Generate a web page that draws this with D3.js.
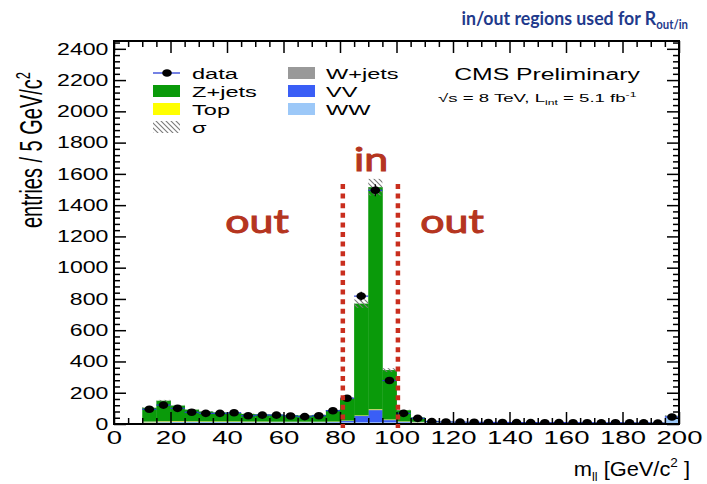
<!DOCTYPE html>
<html>
<head>
<meta charset="utf-8">
<script src="https://cdn.jsdelivr.net/npm/d3@7"></script>
<style>
  body { margin: 0; background: #fff; }
  svg { display: block; }
</style>
</head>
<body>
<svg id="chart" width="707" height="484"></svg>
<script>
// Dilepton mass histogram, 5 GeV/c^2 bins (lower edges)
const binLow = [0, 5, 10, 15, 20, 25, 30, 35, 40, 45, 50, 55, 60, 65, 70, 75, 80, 85, 90, 95,
                100, 105, 110, 115, 120, 125, 130, 135, 140, 145, 150, 155, 160, 165, 170, 175, 180, 185, 190, 195];

// Observed events per bin
const dataCounts = [0, 0, 94, 121, 100, 75, 68, 68, 72, 53, 57, 57, 51, 47, 53, 85, 165, 818, 1495, 278,
                    68, 36, 15, 13, 12, 11, 10, 10, 9, 9, 8, 9, 8, 8, 7, 8, 7, 7, 6, 45];

// Simulated contributions, stacked bottom to top
const wwCounts    = [0, 0, 10, 11, 12, 12, 12, 12, 12, 11, 11, 11, 11, 11, 11, 11, 11, 11, 11, 11,
                     10, 9, 8, 7, 6, 6, 6, 6, 5, 5, 5, 5, 5, 5, 5, 5, 5, 5, 5, 48];
const vvCounts    = [0, 0, 1, 1, 1, 1, 1, 1, 1, 1, 1, 1, 1, 1, 1, 2, 8, 40, 78, 14,
                     4, 2, 1, 1, 1, 1, 1, 1, 1, 1, 1, 1, 1, 1, 1, 1, 1, 1, 1, 2];
const topCounts   = [0, 0, 3, 4, 4, 3, 3, 3, 3, 3, 3, 2, 2, 2, 2, 2, 2, 3, 4, 3,
                     2, 2, 2, 2, 2, 1, 1, 1, 1, 1, 1, 1, 1, 1, 1, 1, 1, 1, 1, 1];
const wjetsCounts = [0, 0, 2, 2, 2, 2, 1, 1, 1, 1, 1, 1, 1, 1, 1, 1, 1, 1, 2, 1,
                     1, 1, 1, 1, 1, 0, 0, 0, 0, 0, 0, 0, 0, 0, 0, 0, 0, 0, 0, 1];
const zjetsCounts = [0, 0, 88, 131, 99, 74, 63, 57, 53, 48, 46, 45, 42, 40, 43, 72, 143, 715, 1420, 316,
                     71, 28, 8, 3, 2, 3, 2, 2, 2, 2, 1, 1, 1, 1, 1, 1, 1, 1, 1, 1];

// Relative systematic uncertainty shown as the hatched band
const sigmaRel = 0.035;

// Axis ticks
const xMajor = [0, 20, 40, 60, 80, 100, 120, 140, 160, 180, 200];
const yMajor = [0, 200, 400, 600, 800, 1000, 1200, 1400, 1600, 1800, 2000, 2200, 2400];

// Boundaries of the "in" window around the Z peak
const inWindow = [81, 100.5];

const binWidth = 5;
const svg = d3.select("#chart");
const x = d3.scaleLinear().domain([0, 200]).range([114, 679]);
const y = d3.scaleLinear().domain([0, 2450]).range([424, 41]);

const colors = { WW: "#9cc8f8", VV: "#3a5ef6", Top: "#ffff00", Wjets: "#999999", Zjets: "#0a9a0a" };
const ROOTFONT = "'Liberation Sans', Arial, Helvetica, sans-serif";

// text stretched horizontally about its anchor point
function stretched(parent, px, py, str, size, sx, anchor, fill) {
  const g = parent.append("g").attr("transform", `translate(${px},${py}) scale(${sx},1)`);
  return g.append("text").attr("x", 0).attr("y", 0)
    .attr("font-family", ROOTFONT).attr("font-size", size)
    .attr("text-anchor", anchor || "start").attr("fill", fill || "#000").text(str);
}

const defs = svg.append("defs");
defs.append("pattern").attr("id", "hatch").attr("patternUnits", "userSpaceOnUse")
  .attr("width", 5).attr("height", 5)
  .append("path").attr("d", "M-1,-1 L6,6 M-1,4 L1,6 M4,-1 L6,1")
  .attr("stroke", "#7a7a7a").attr("stroke-width", 1.1);
defs.append("clipPath").attr("id", "plotClip").append("rect")
  .attr("x", x(0)).attr("y", y(2450)).attr("width", x(200) - x(0)).attr("height", y(0) - y(2450));

// stacked backgrounds
const rows = binLow.map((b, i) => ({ b, WW: wwCounts[i], VV: vvCounts[i], Top: topCounts[i],
                                     Wjets: wjetsCounts[i], Zjets: zjetsCounts[i] }));
const keys = ["WW", "VV", "Top", "Wjets", "Zjets"];
const series = d3.stack().keys(keys)(rows);

const plot = svg.append("g").attr("clip-path", "url(#plotClip)");
plot.selectAll("g.layer").data(series).join("g").attr("class", "layer")
  .attr("fill", s => colors[s.key])
  .selectAll("rect").data(s => s.filter(d => d[1] > d[0])).join("rect")
  .attr("x", d => x(d.data.b))
  .attr("width", d => x(d.data.b + binWidth) - x(d.data.b) + 0.4)
  .attr("y", d => y(d[1]))
  .attr("height", d => y(d[0]) - y(d[1]));

// uncertainty band on the total prediction
const totals = series[series.length - 1];
plot.append("g").selectAll("rect").data(totals.filter(d => d[1] > 0)).join("rect")
  .attr("x", d => x(d.data.b))
  .attr("width", d => x(d.data.b + binWidth) - x(d.data.b))
  .attr("y", d => y(d[1] * (1 + sigmaRel)))
  .attr("height", d => y(d[1] * (1 - sigmaRel)) - y(d[1] * (1 + sigmaRel)))
  .attr("fill", "url(#hatch)");

// data points
const pts = binLow.map((b, i) => ({ b, n: dataCounts[i] })).filter(d => d.n > 0);
const dg = plot.append("g");
dg.selectAll("line.ex").data(pts).join("line").attr("class", "ex")
  .attr("x1", d => x(d.b)).attr("x2", d => x(d.b + binWidth))
  .attr("y1", d => y(d.n)).attr("y2", d => y(d.n))
  .attr("stroke", "#2b3fd6").attr("stroke-width", 1.2);
dg.selectAll("line.ey").data(pts).join("line").attr("class", "ey")
  .attr("x1", d => x(d.b + binWidth / 2)).attr("x2", d => x(d.b + binWidth / 2))
  .attr("y1", d => y(d.n - Math.sqrt(d.n))).attr("y2", d => y(d.n + Math.sqrt(d.n)))
  .attr("stroke", "#000").attr("stroke-width", 1.2);
dg.selectAll("ellipse").data(pts).join("ellipse")
  .attr("cx", d => x(d.b + binWidth / 2)).attr("cy", d => y(d.n))
  .attr("rx", 4.8).attr("ry", 3.8).attr("fill", "#000");

// axes with inward ticks on all four sides
function styleAxis(g) {
  g.select(".domain").remove();
  g.selectAll("line").attr("stroke", "#000").attr("stroke-width", 1.5);
}
const xMinor = binLow.filter(v => v % 20 !== 0);
const yMinor = d3.range(0, 2441, 40).filter(v => v % 200 !== 0);

svg.append("g").attr("transform", `translate(0,${y(0)})`)
  .call(d3.axisBottom(x).tickValues(xMinor).tickSize(-6).tickFormat("")).call(styleAxis);
svg.append("g").attr("transform", `translate(0,${y(2450)})`)
  .call(d3.axisTop(x).tickValues(xMinor).tickSize(-6).tickFormat("")).call(styleAxis);
svg.append("g").attr("transform", `translate(0,${y(2450)})`)
  .call(d3.axisTop(x).tickValues(xMajor).tickSize(-12).tickFormat("")).call(styleAxis);
svg.append("g").attr("transform", `translate(${x(0)},0)`)
  .call(d3.axisLeft(y).tickValues(yMinor).tickSize(-6).tickFormat("")).call(styleAxis);
svg.append("g").attr("transform", `translate(${x(200)},0)`)
  .call(d3.axisRight(y).tickValues(yMinor).tickSize(-6).tickFormat("")).call(styleAxis);
svg.append("g").attr("transform", `translate(${x(200)},0)`)
  .call(d3.axisRight(y).tickValues(yMajor).tickSize(-12).tickFormat("")).call(styleAxis);

const xAxis = svg.append("g").attr("transform", `translate(0,${y(0)})`)
  .call(d3.axisBottom(x).tickValues(xMajor).tickFormat(d3.format("d"))
        .tickSizeInner(-12).tickSizeOuter(0).tickPadding(7))
  .call(styleAxis);
xAxis.selectAll("text").attr("font-family", ROOTFONT).attr("font-size", 19).attr("fill", "#000")
  .attr("transform", "scale(1.45,1)");

const yAxis = svg.append("g").attr("transform", `translate(${x(0)},0)`)
  .call(d3.axisLeft(y).tickValues(yMajor).tickFormat(d3.format("d"))
        .tickSizeInner(-12).tickSizeOuter(0).tickPadding(4))
  .call(styleAxis);
yAxis.selectAll("text").attr("font-family", ROOTFONT).attr("font-size", 16.5).attr("fill", "#000")
  .attr("transform", "scale(1.4,1)");

// frame
svg.append("rect").attr("x", x(0)).attr("y", y(2450))
  .attr("width", x(200) - x(0)).attr("height", y(0) - y(2450))
  .attr("fill", "none").attr("stroke", "#000").attr("stroke-width", 2);

// in/out window markers
svg.append("g").selectAll("line").data(inWindow).join("line")
  .attr("x1", d => x(d)).attr("x2", d => x(d))
  .attr("y1", 184).attr("y2", 428)
  .attr("stroke", "#c92e1e").attr("stroke-width", 4.5).attr("stroke-dasharray", "5,4.6");

const noteFont = "Lato, 'Open Sans', sans-serif";
const noteColor = "#b5351f";
function note(px, py, str) {
  svg.append("g").attr("transform", `translate(${px},${py}) scale(1.3,1)`)
    .append("text").attr("text-anchor", "middle")
    .attr("font-family", noteFont).attr("font-size", 33).attr("font-weight", "normal")
    .attr("fill", noteColor).attr("stroke", noteColor).attr("stroke-width", 1)
    .text(str);
}
note(x(91), 171, "in");
note(257, 233, "out");
note(452, 233, "out");

// title
const titleG = svg.append("g").attr("transform", "translate(688,25) scale(0.91,1)");
const title = titleG.append("text").attr("text-anchor", "end")
  .attr("font-family", noteFont).attr("font-weight", "bold").attr("fill", "#1f3a8c");
title.append("tspan").attr("font-size", 19.5).text("in/out regions used for R");
title.append("tspan").attr("font-size", 12.5).attr("dy", 4).text("out/in");

// axis titles
const yt = svg.append("g").attr("transform", "translate(42,150) rotate(-90) scale(1,1.55)");
const ytText = yt.append("text").attr("text-anchor", "middle").attr("font-family", ROOTFONT)
  .attr("font-size", 20).attr("fill", "#000");
ytText.append("tspan").text("entries / 5 GeV/c");
ytText.append("tspan").attr("font-size", 13).attr("dy", -8).text("2");

const xtG = svg.append("g").attr("transform", "translate(690,476) scale(1.04,1)");
const xt = xtG.append("text").attr("text-anchor", "end").attr("font-family", ROOTFONT)
  .attr("font-size", 21).attr("fill", "#000");
xt.append("tspan").text("m");
xt.append("tspan").attr("font-size", 12).attr("dy", 5).text("ll");
xt.append("tspan").attr("dy", -5).text(" [GeV/c");
xt.append("tspan").attr("font-size", 13).attr("dy", -9).text("2");
xt.append("tspan").attr("dy", 9).text(" ]");

// CMS label
stretched(svg, 547, 80, "CMS Preliminary", 16.5, 1.5, "middle");
const lumiG = svg.append("g").attr("transform", "translate(438,102) scale(1.62,1)");
const lumi = lumiG.append("text").attr("font-family", ROOTFONT).attr("font-size", 11.5).attr("fill", "#000");
lumi.append("tspan").text("\u221As = 8 TeV, L");
lumi.append("tspan").attr("font-size", 7.5).attr("dy", 3).text("int");
lumi.append("tspan").attr("dy", -3).text(" =  5.1 fb");
lumi.append("tspan").attr("font-size", 7.5).attr("dy", -5).text("-1");

// legend
const legend = svg.append("g");
const legLeft = [
  { label: "data", type: "data", yb: 79 },
  { label: "Z+jets", type: "Zjets", yb: 97 },
  { label: "Top", type: "Top", yb: 115 },
  { label: "\u03c3", type: "sigma", yb: 133 }
];
const legRight = [
  { label: "W+jets", type: "Wjets", yb: 79 },
  { label: "VV", type: "VV", yb: 97 },
  { label: "WW", type: "WW", yb: 115 }
];
function legendEntry(e, bx, tx) {
  const cy = e.yb - 6;
  if (e.type === "data") {
    legend.append("line").attr("x1", bx).attr("x2", bx + 27).attr("y1", cy).attr("y2", cy)
      .attr("stroke", "#2b3fd6").attr("stroke-width", 1.3);
    legend.append("ellipse").attr("cx", bx + 14).attr("cy", cy).attr("rx", 4.8).attr("ry", 3.8).attr("fill", "#000");
  } else if (e.type === "sigma") {
    legend.append("rect").attr("x", bx).attr("y", cy - 6).attr("width", 27).attr("height", 12)
      .attr("fill", "url(#hatch)");
  } else {
    legend.append("rect").attr("x", bx).attr("y", cy - 6).attr("width", 27).attr("height", 12)
      .attr("fill", colors[e.type]);
  }
  stretched(legend, tx, e.yb, e.label, 15.5, 1.52, "start");
}
legLeft.forEach(e => legendEntry(e, 153, 192));
legRight.forEach(e => legendEntry(e, 288, 326));
</script>
</body>
</html>
